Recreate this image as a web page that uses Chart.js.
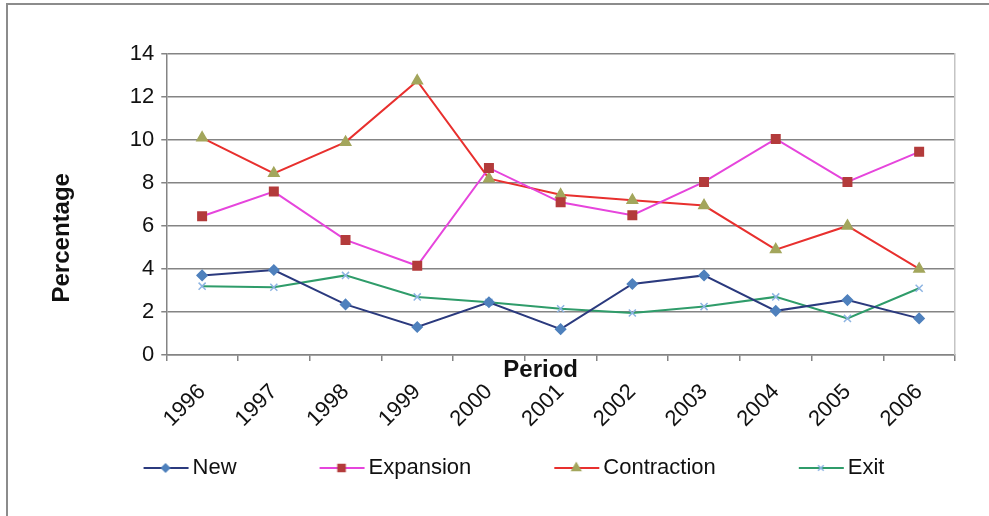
<!DOCTYPE html>
<html lang="en">
  <head>
    <meta charset="UTF-8" />
    <title>Firm dynamics by period</title>
    <style>
      body {
        margin: 0;
        padding: 0;
        background-color: #fff;
      }
      .frame {
        position: relative;
        width: 989px;
        height: 516px;
      }
      .edge {
        position: absolute;
        left: 6px;
        top: 3px;
        right: 0;
        bottom: 0;
        border-left: 2px solid #8c8c8c;
        border-top: 2px solid #8c8c8c;
        pointer-events: none;
      }
      canvas {
        position: absolute;
        left: 0;
        top: 0;
      }
    </style>
  </head>

  <body>
    <div class="frame">
      <canvas id="periodChart" width="989" height="516"></canvas>
      <div class="edge"></div>
    </div>
    <script src="https://cdn.jsdelivr.net/npm/chart.js"></script>
    <script>
      // values
      const years = ["1996", "1997", "1998", "1999", "2000", "2001", "2002", "2003", "2004", "2005", "2006"];
      const newFirms = [3.7, 3.95, 2.35, 1.3, 2.45, 1.2, 3.3, 3.7, 2.05, 2.55, 1.7];
      const expansion = [6.45, 7.6, 5.35, 4.15, 8.7, 7.1, 6.5, 8.05, 10.05, 8.05, 9.45];
      const contraction = [10.1, 8.45, 9.9, 12.75, 8.2, 7.45, 7.2, 6.95, 4.9, 6.0, 4.0];
      const exitFirms = [3.2, 3.15, 3.7, 2.7, 2.45, 2.15, 1.95, 2.25, 2.7, 1.7, 3.1];
      const seriesNames = ["New", "Expansion", "Contraction", "Exit"];
      const yMin = 0;
      const yMax = 14;
      const yStep = 2;

      const font = "Arial, 'Liberation Sans', sans-serif";
      const gridGray = "#848484";

      const styles = [
        { line: "#2b3a7e", mark: "#4f81bd", shape: "rectRot", r: 5 },
        { line: "#e645dc", mark: "#b33b3b", shape: "rect", r: 6 },
        { line: "#e8302e", mark: "#a3a65c", shape: "triangle", r: 6 },
        { line: "#2f9c6a", mark: "#8db4e2", shape: "crossRot", r: 5 },
      ];

      // legend box is wide so the gap before each symbol stays empty
      const legendBox = 111;

      const legendSymbol = (st) => {
        const c = document.createElement("canvas");
        c.width = legendBox + 16;
        c.height = 16;
        const g = c.getContext("2d");
        const x0 = c.width - 46;
        g.strokeStyle = st.line;
        g.lineWidth = 2;
        g.beginPath();
        g.moveTo(x0, 8);
        g.lineTo(c.width - 1, 8);
        g.stroke();
        g.fillStyle = st.mark;
        g.strokeStyle = st.mark;
        g.lineWidth = 1.5;
        Chart.helpers.drawPoint(g, { pointStyle: st.shape, radius: st.r - 1, borderWidth: 1.5, rotation: 0 }, x0 + 22, 8);
        return c;
      };

      const makeSet = (label, data, st) => ({
        label: label,
        data: data,
        borderColor: st.line,
        borderWidth: 2,
        backgroundColor: st.mark,
        pointStyle: st.shape,
        pointRadius: st.r,
        pointBackgroundColor: st.mark,
        pointBorderColor: st.mark,
        pointBorderWidth: 1.5,
        tension: 0,
        fill: false,
      });

      const ctx = document.getElementById("periodChart").getContext("2d");
      new Chart(ctx, {
        type: "line",
        data: {
          labels: years,
          datasets: [
            makeSet(seriesNames[0], newFirms, styles[0]),
            makeSet(seriesNames[1], expansion, styles[1]),
            makeSet(seriesNames[2], contraction, styles[2]),
            makeSet(seriesNames[3], exitFirms, styles[3]),
          ],
        },
        options: {
          responsive: false,
          animation: false,
          layout: {
            padding: { left: 0, top: 54, right: 34, bottom: 27 },
          },
          plugins: {
            tooltip: { enabled: false },
            legend: {
              position: "bottom",
              labels: {
                usePointStyle: true,
                pointStyleWidth: legendBox,
                padding: 10,
                color: "#111",
                font: { family: font, size: 22 },
                generateLabels: (chart) => {
                  const items = Chart.defaults.plugins.legend.labels.generateLabels(chart);
                  items.forEach((it, i) => {
                    it.pointStyle = legendSymbol(styles[i]);
                  });
                  return items;
                },
              },
            },
          },
          scales: {
            x: {
              offset: true,
              grid: {
                offset: true,
                drawOnChartArea: false,
                drawTicks: true,
                tickLength: 6,
                color: gridGray,
                lineWidth: 1.5,
              },
              border: { color: gridGray, width: 1.5 },
              ticks: {
                minRotation: 45,
                maxRotation: 45,
                padding: 18,
                color: "#111",
                font: { family: font, size: 22 },
              },
              title: {
                display: true,
                // trailing spaces nudge the title left like the original
                text: "Period      ",
                color: "#111",
                font: { family: font, size: 24, weight: "bold" },
                padding: { top: -94, bottom: 62 },
              },
            },
            y: {
              min: yMin,
              max: yMax,
              grid: {
                color: gridGray,
                lineWidth: 1.5,
                tickLength: 5,
              },
              border: { color: gridGray, width: 1.5 },
              ticks: {
                stepSize: yStep,
                padding: 7,
                color: "#111",
                font: { family: font, size: 22 },
              },
              title: {
                display: true,
                // trailing spaces push the title down like the original
                text: "Percentage          ",
                color: "#111",
                font: { family: font, size: 24, weight: "bold" },
                padding: { top: 48, bottom: 46 },
              },
            },
            yRight: {
              position: "right",
              min: yMin,
              max: yMax,
              grid: { drawOnChartArea: false, drawTicks: false },
              border: { color: "#c4c4c4", width: 1.5 },
              ticks: { display: false },
            },
          },
        },
      });
    </script>
  </body>
</html>
